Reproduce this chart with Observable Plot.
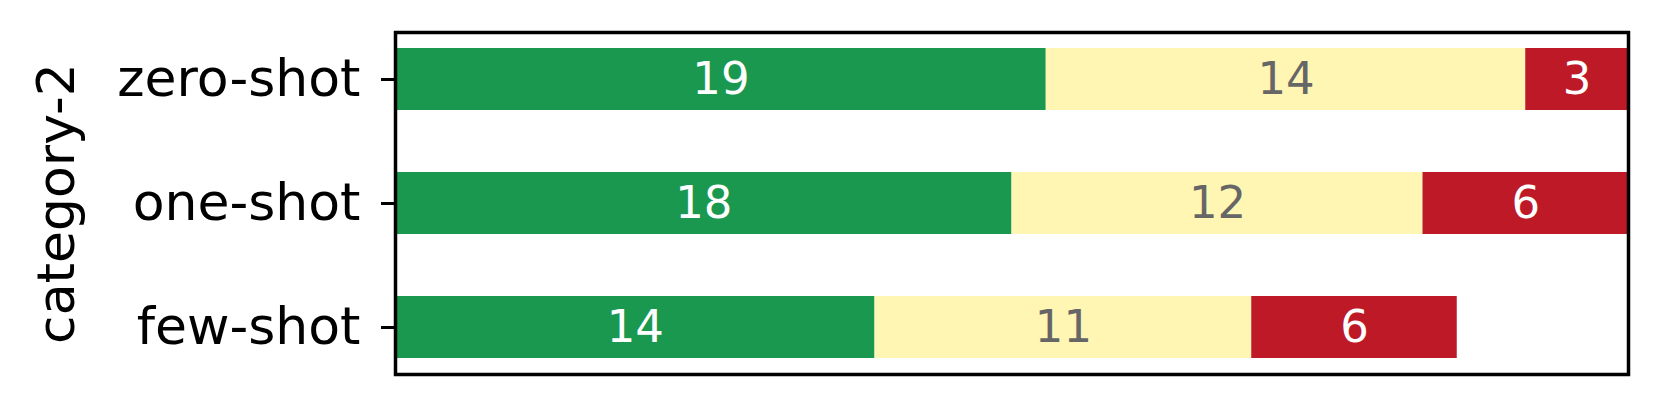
<!DOCTYPE html>
<html>
<head>
<meta charset="utf-8">
<script src="https://cdn.jsdelivr.net/npm/d3@7"></script>
<script src="https://cdn.jsdelivr.net/npm/@observablehq/plot@0.6"></script>
<style>
  html, body { margin: 0; padding: 0; background: white; }
</style>
</head>
<body>
<div id="chart"></div>
<script>
const categories = ["zero-shot", "one-shot", "few-shot"];
const seriesNames = ["positive", "neutral", "negative"];
const positiveValues = [19, 18, 14];
const neutralValues = [14, 12, 11];
const negativeValues = [3, 6, 6];
const seriesColors = ["#1a9850", "#fff6b3", "#bd1926"];
const labelColors = ["white", "#666666", "white"];
const axisLabel = "category-2";

const seriesValues = [positiveValues, neutralValues, negativeValues];
const data = [];
categories.forEach((c, i) => {
  seriesNames.forEach((s, j) => {
    data.push({category: c, series: s, value: seriesValues[j][i]});
  });
});
const colorOf = Object.fromEntries(seriesNames.map((s, j) => [s, seriesColors[j]]));
const labelColorOf = Object.fromEntries(seriesNames.map((s, j) => [s, labelColors[j]]));

const chart = Plot.plot({
  width: 1661,
  height: 406,
  marginLeft: 395,
  marginRight: 33,
  marginTop: 32,
  marginBottom: 32,
  style: {fontFamily: "DejaVu Sans", background: "white"},
  x: {domain: [0, 36], axis: null},
  y: {domain: categories, paddingInner: 0.5, paddingOuter: 0.125, align: 0.5},
  marks: [
    Plot.barX(data, Plot.stackX({
      x: "value", y: "category", z: "series",
      fill: d => colorOf[d.series]
    })),
    Plot.text(data, Plot.stackX({
      x: "value", y: "category", z: "series",
      text: d => String(d.value),
      fill: d => labelColorOf[d.series],
      fontSize: 45
    })),
    Plot.axisY({
      tickSize: 14,
      tickPadding: 21,
      strokeWidth: 3,
      fontSize: 52,
      fill: "black",
      stroke: "black",
      label: axisLabel,
      labelAnchor: "center",
      labelArrow: "none",
      labelOffset: 358
    }),
    Plot.frame({stroke: "black", strokeWidth: 3.5})
  ]
});
document.getElementById("chart").appendChild(chart);
</script>
</body>
</html>
